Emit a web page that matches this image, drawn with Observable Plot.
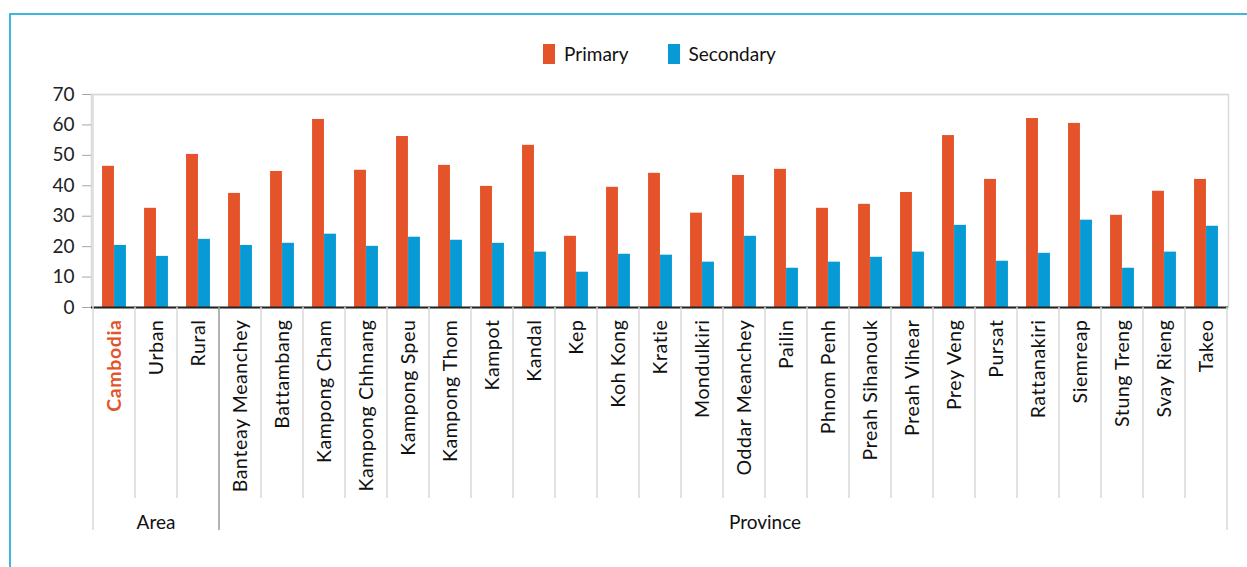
<!DOCTYPE html>
<html><head><meta charset="utf-8">
<script src="https://cdn.jsdelivr.net/npm/d3@7"></script>
<script src="https://cdn.jsdelivr.net/npm/@observablehq/plot@0.6"></script>
<style>
body{margin:0;background:#fff;font-family:Lato, "Open Sans", sans-serif;}
#frame{position:absolute;left:9px;top:13px;right:0;bottom:0;border-top:2px solid #3fb7dc;border-left:2px solid #3fb7dc;pointer-events:none;}
#wrap{position:relative;}
#legend{height:80px;margin-left:91px;width:1137px;display:flex;justify-content:center;align-items:flex-start;}
.item{display:flex;align-items:center;margin-top:42px;font-size:19px;color:#111;}
.item + .item{margin-left:39px;}
.sw{width:12px;height:20px;margin-right:9px;}
#chart svg{display:block;overflow:visible;}
</style></head>
<body>
<div id="frame"></div>
<div id="wrap"><div id="legend"></div><div id="chart"></div></div>
<script>
const categories = ["Cambodia","Urban","Rural","Banteay Meanchey","Battambang","Kampong Cham","Kampong Chhnang","Kampong Speu","Kampong Thom","Kampot","Kandal","Kep","Koh Kong","Kratie","Mondulkiri","Oddar Meanchey","Pailin","Phnom Penh","Preah Sihanouk","Preah Vihear","Prey Veng","Pursat","Rattanakiri","Siemreap","Stung Treng","Svay Rieng","Takeo"];
const areaCategories = ["Cambodia","Urban","Rural"];
const groupNames = ["Area","Province"];
const primary = [46.4,32.6,50.3,37.5,44.7,61.8,45.1,56.2,46.7,39.8,53.3,23.4,39.5,44.1,31.0,43.4,45.4,32.6,33.9,37.8,56.5,42.1,62.1,60.5,30.3,38.2,42.1];
const secondary = [20.4,16.8,22.4,20.4,21.1,24.1,20.1,23.1,22.1,21.1,18.2,11.6,17.5,17.2,14.9,23.4,12.9,14.9,16.5,18.2,27.0,15.2,17.8,28.7,12.9,18.2,26.7];
const seriesNames = ["Primary","Secondary"];
const colors = ["#E5532A","#079AD5"];
const yTicks = [0,10,20,30,40,50,60,70];

// legend
const legend = d3.select("#legend");
seriesNames.forEach((s,i)=>{
  const it = legend.append("div").attr("class","item");
  it.append("div").attr("class","sw").style("background",colors[i]);
  it.append("span").text(s);
});

const data = categories.map((c,i)=>({category:c, primary:primary[i], secondary:secondary[i]}));
const W = 1247, H = 487;
const step = (W-91-19)/categories.length;
const barW = 12;
const inset = (step - barW)/2;

const chart = Plot.plot({
  width: W, height: H,
  marginTop: 14, marginBottom: 260, marginLeft: 91, marginRight: 19,
  x: {domain: categories, padding: 0, axis: null, label: null},
  y: {domain: [0,70], axis: null, label: null},
  style: {fontFamily: "Lato, 'Open Sans', sans-serif", fontSize: "19px", background: "transparent", color: "#222", overflow: "visible"},
  marks: [
    Plot.frame({stroke: "#d9d9d9", strokeWidth: 1.5}),
    Plot.ruleY([70], {stroke: "#d9d9d9", strokeWidth: 1.5}),
    Plot.barY(data, {x: "category", y: "primary", fill: colors[0], insetLeft: inset, insetRight: inset, dx: -barW/2}),
    Plot.barY(data, {x: "category", y: "secondary", fill: colors[1], insetLeft: inset, insetRight: inset, dx: barW/2}),
    Plot.axisY({ticks: yTicks, tickSize: 9, tickPadding: 8, stroke: "#a6a6a6", fill: "#222", fontSize: 19, label: null, tickFormat: d => String(d)}),
    Plot.ruleY([0], {stroke: "#222", strokeWidth: 2}),
    Plot.axisX({tickRotate: -90, tickSize: 0, tickPadding: 12, fill: "#111", fontSize: 19.5, label: null})
  ]
});
document.getElementById("chart").appendChild(chart);

// decorations below the axis, computed from the scales
const svg = d3.select(chart);
const xs = chart.scale("x"), ys = chart.scale("y");
const y0 = ys.apply(0), yTop = ys.apply(70);
const bw = xs.bandwidth !== undefined ? xs.bandwidth : step;
const g = svg.append("g");
categories.forEach((c,i)=>{
  if (i === 0 || i === areaCategories.length) return;
  const x = xs.apply(c);
  g.append("line").attr("x1",x).attr("x2",x).attr("y1",y0).attr("y2",y0+191).attr("stroke","#d9d9d9").attr("stroke-width",1.5);
});
const leftX = xs.apply(categories[0]);
const divX = xs.apply(categories[areaCategories.length]);
const rightX = xs.apply(categories[categories.length-1]) + bw;
[[leftX,"#d9d9d9"],[divX,"#9a9a9a"],[rightX,"#d9d9d9"]].forEach(([x,col])=>{
  g.append("line").attr("x1",x).attr("x2",x).attr("y1",y0).attr("y2",y0+223).attr("stroke",col).attr("stroke-width",1.5);
});
// left axis line
g.append("line").attr("x1",leftX).attr("x2",leftX).attr("y1",yTop).attr("y2",y0).attr("stroke","#d9d9d9").attr("stroke-width",1.5);
// group labels
g.append("text").attr("x",(leftX+divX)/2).attr("y",y0+222).attr("text-anchor","middle").attr("font-size",19).attr("fill","#111").text(groupNames[0]);
const provCenter = xs.apply("Pailin");
g.append("text").attr("x",provCenter).attr("y",y0+222).attr("text-anchor","middle").attr("font-size",19).attr("fill","#111").text(groupNames[1]);
// x tick labels: letter spacing to match the wider original face; highlight Cambodia
svg.selectAll("text").filter(function(){return categories.includes(this.textContent);}).attr("letter-spacing","0.6px");
svg.selectAll("text").filter(function(){return this.textContent === "Cambodia";}).attr("fill","#E5532A").attr("font-weight","bold");
</script>
</body></html>
